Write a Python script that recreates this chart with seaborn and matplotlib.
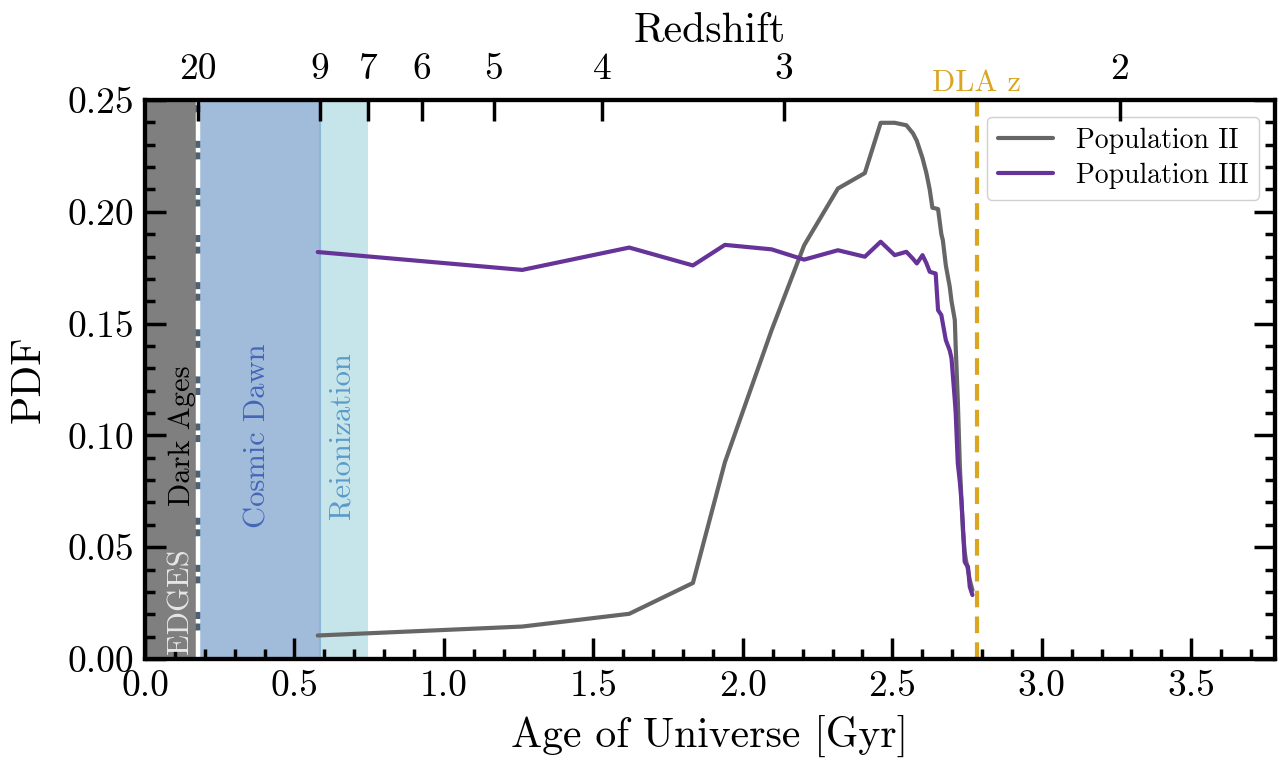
import numpy as np
import pandas as pd
import matplotlib
matplotlib.use("Agg")
import matplotlib.pyplot as plt
from matplotlib.ticker import MultipleLocator, FormatStrFormatter
import seaborn as sns

# ---------------- data ----------------
age_gyr = [0.578, 1.262, 1.620, 1.833, 1.940, 2.096, 2.205, 2.318, 2.408, 2.461,
           2.508, 2.547, 2.569, 2.582, 2.601, 2.614, 2.625, 2.634, 2.645, 2.653,
           2.664, 2.669, 2.679, 2.692, 2.698, 2.709, 2.712, 2.719, 2.726, 2.731,
           2.736, 2.742, 2.746, 2.753, 2.759, 2.768]
pop2_pdf = [0.0105, 0.0145, 0.0202, 0.0340, 0.0880, 0.1470, 0.1850, 0.2104, 0.2173, 0.2398,
            0.2398, 0.2387, 0.2351, 0.2317, 0.2240, 0.2173, 0.2100, 0.2018, 0.2015, 0.2012,
            0.1900, 0.1873, 0.1760, 0.1665, 0.1600, 0.1516, 0.1396, 0.1158, 0.0860, 0.0720,
            0.0577, 0.0480, 0.0443, 0.0400, 0.0353, 0.0308]
pop3_pdf = [0.1820, 0.1740, 0.1840, 0.1760, 0.1852, 0.1832, 0.1786, 0.1828, 0.1799, 0.1866,
            0.1806, 0.1821, 0.1790, 0.1769, 0.1806, 0.1770, 0.1732, 0.1728, 0.1724, 0.1560,
            0.1538, 0.1500, 0.1426, 0.1380, 0.1345, 0.1158, 0.1100, 0.0875, 0.0790, 0.0711,
            0.0600, 0.0435, 0.0425, 0.0413, 0.0323, 0.0286]
series_names = ["Population II", "Population III"]
series_colors = ["#666666", "#663399"]

redshift_labels = ["20", "9", "7", "6", "5", "4", "3", "2"]
redshift_ages = [0.178, 0.585, 0.746, 0.926, 1.167, 1.530, 2.136, 3.261]

dla_age = 2.783
dark_ages = (0.0, 0.178)
cosmic_dawn = (0.178, 0.585)
reionization = (0.585, 0.746)

# ---------------- style ----------------
sns.set_style("ticks")
plt.rcParams["font.family"] = ["cmr10", "DejaVu Serif"]
plt.rcParams["mathtext.fontset"] = "cm"
plt.rcParams["axes.formatter.use_mathtext"] = True
plt.rcParams["axes.unicode_minus"] = False
plt.rcParams["axes.edgecolor"] = "black"
plt.rcParams["xtick.color"] = "black"
plt.rcParams["ytick.color"] = "black"
plt.rcParams["text.color"] = "black"
plt.rcParams["axes.labelcolor"] = "black"

df = pd.DataFrame({
    "age": age_gyr * 2,
    "pdf": pop2_pdf + pop3_pdf,
    "pop": [series_names[0]] * len(age_gyr) + [series_names[1]] * len(age_gyr),
})

fig = plt.figure(figsize=(12.85, 7.65), dpi=100)
ax = fig.add_axes([0.1128, 0.1386, 0.8794, 0.7307])

# bands
ax.axvspan(*dark_ages, color="#7f7f7f", lw=0, zorder=0)
ax.axvspan(*cosmic_dawn, color="#a1bcdb", lw=0, zorder=0)
ax.axvspan(*reionization, color="#c6e5ea", lw=0, zorder=0)
ax.axvline(reionization[0], color="#8cb6d6", lw=1.5, zorder=0.5)
ax.axvline(dark_ages[1], color="white", ls="-.", lw=3.2, gapcolor="#4f6070", zorder=0.6)

sns.lineplot(data=df, x="age", y="pdf", hue="pop", palette=series_colors,
             linewidth=3, ax=ax, sort=False, estimator=None, zorder=3)

ax.axvline(dla_age, color="#daa520", ls="--", lw=3, dashes=(4, 2.2), zorder=2)

tfs = 22
ax.text(0.126, 0.10, "Dark Ages", rotation=90, ha="center", va="center",
        fontsize=tfs, color="black", zorder=4)
ax.text(0.120, 0.026, "EDGES", rotation=90, ha="center", va="center",
        fontsize=tfs, color="#e6e6e6", zorder=4, clip_on=True)
ax.text(0.378, 0.10, "Cosmic Dawn", rotation=90, ha="center", va="center",
        fontsize=tfs, color="#4466b6", zorder=4)
ax.text(0.66, 0.10, "Reionization", rotation=90, ha="center", va="center",
        fontsize=tfs, color="#5b9bc9", zorder=4)
ax.text(dla_age, 0.2515, "DLA z", ha="center", va="bottom",
        fontsize=tfs, color="#daa520")

ax.set_xlim(0, 3.78)
ax.set_ylim(0, 0.25)
ax.xaxis.set_major_locator(MultipleLocator(0.5))
ax.xaxis.set_minor_locator(MultipleLocator(0.1))
ax.yaxis.set_major_locator(MultipleLocator(0.05))
ax.yaxis.set_minor_locator(MultipleLocator(0.01))
ax.xaxis.set_major_formatter(FormatStrFormatter("%.1f"))
ax.yaxis.set_major_formatter(FormatStrFormatter("%.2f"))
ax.tick_params(which="both", direction="in", top=False, right=True, width=2.5,
               labelsize=27)
ax.tick_params(which="major", length=15, pad=8)
ax.tick_params(which="minor", length=7.5)
for s in ax.spines.values():
    s.set_linewidth(3)
    s.set_zorder(5)

ax.set_xlabel("Age of Universe [Gyr]", fontsize=30, labelpad=8)
ax.set_ylabel("PDF", fontsize=30, labelpad=14)

handles, labels = ax.get_legend_handles_labels()
leg = ax.legend(handles, labels, loc="upper right", fontsize=20, frameon=True,
                fancybox=True, framealpha=1, edgecolor="#d0d0d0",
                handlelength=2.0, borderpad=0.4, labelspacing=0.3,
                handletextpad=0.8, bbox_to_anchor=(0.9985, 0.995))
for h in leg.get_lines():
    h.set_linewidth(3)

ax2 = ax.twiny()
ax2.set_xlim(ax.get_xlim())
ax2.set_xticks(redshift_ages)
ax2.set_xticklabels(redshift_labels)
ax2.tick_params(axis="x", which="major", direction="in", length=15, width=2.5,
                labelsize=27, pad=10)
ax2.xaxis.set_minor_locator(plt.NullLocator())
ax2.set_xlabel("Redshift", fontsize=30, labelpad=8)
for s in ax2.spines.values():
    s.set_linewidth(3)

fig.savefig("out.png", dpi=100)
